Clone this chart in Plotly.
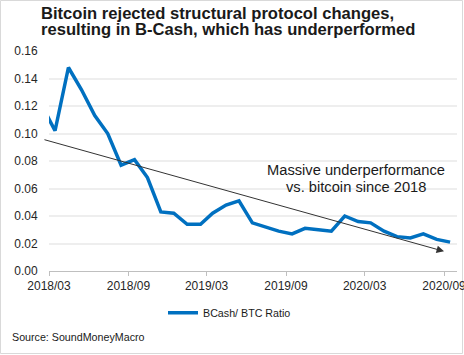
import plotly.graph_objects as go

# ---- data ----
months = ["2018-02-15", "2018-03-15", "2018-04-15", "2018-05-15", "2018-06-15", "2018-07-15",
          "2018-08-15", "2018-09-15", "2018-10-15", "2018-11-15", "2018-12-15",
          "2019-01-15", "2019-02-15", "2019-03-15", "2019-04-15", "2019-05-15", "2019-06-15",
          "2019-07-15", "2019-08-15", "2019-09-15", "2019-10-15", "2019-11-15", "2019-12-15",
          "2020-01-15", "2020-02-15", "2020-03-15", "2020-04-15", "2020-05-15", "2020-06-15",
          "2020-07-15", "2020-08-15", "2020-09-15"]
ratio = [0.119, 0.102, 0.148, 0.132, 0.113, 0.100,
         0.077, 0.081, 0.068, 0.043, 0.042,
         0.034, 0.034, 0.042, 0.048, 0.051, 0.035,
         0.032, 0.029, 0.027, 0.031, 0.030, 0.029,
         0.040, 0.036, 0.035, 0.029, 0.025, 0.024,
         0.027, 0.023, 0.021]
series_name = "BCash/ BTC Ratio"
trend_start = ("2018-02-15", 0.0958)
trend_end = ("2020-09-01", 0.0143)
x_range = ["2018-03-01", "2020-10-01"]
y_range = [0, 0.16]

title_lines = ["Bitcoin rejected structural protocol changes,",
               "resulting in B-Cash, which has underperformed"]
note_lines = ["Massive underperformance", "vs. bitcoin since 2018"]
source_text = "Source: SoundMoneyMacro"

# ---- layout geometry ----
W, H = 464, 355
L, R, T, B = 49, 7, 51, 84
PW, PH = W - L - R, H - T - B


def px_x(x):
    return (x - L) / PW


def px_y(y):
    return (H - B - y) / PH


FONT = "Liberation Sans, Arial, sans-serif"
TXT = "#262626"

fig = go.Figure()
fig.add_trace(go.Scatter(
    x=months, y=ratio, mode="lines", name=series_name,
    line=dict(color="#0070C0", width=3.5),
))

annotations = []
# title
for i, line in enumerate(title_lines):
    annotations.append(dict(
        text="<b>" + line + "</b>", xref="paper", yref="paper",
        x=px_x(39), y=px_y(13.2 + 16 * i), xanchor="left", yanchor="middle",
        showarrow=False, font=dict(family=FONT, size=16.6, color="#1a1a1a"),
    ))
# note
for i, line in enumerate(note_lines):
    annotations.append(dict(
        text=line, xref="paper", yref="paper",
        x=px_x(356), y=px_y(169.8 + 16.7 * i), xanchor="center", yanchor="middle",
        showarrow=False, font=dict(family=FONT, size=14.7, color="#1a1a1a"),
    ))
# trend arrow
annotations.append(dict(
    x=trend_end[0], y=trend_end[1], ax=trend_start[0], ay=trend_start[1],
    xref="x", yref="y", axref="x", ayref="y", text="", showarrow=True,
    arrowhead=2, arrowsize=1.5, arrowwidth=1, arrowcolor="#333333", standoff=0,
))
# source
annotations.append(dict(
    text=source_text, xref="paper", yref="paper",
    x=px_x(10), y=px_y(336.7), xanchor="left", yanchor="middle",
    showarrow=False, font=dict(family=FONT, size=10.7, color="#1a1a1a"),
))

fig.update_layout(
    width=W, height=H,
    margin=dict(l=L, r=R, t=T, b=B, autoexpand=False),
    paper_bgcolor="white", plot_bgcolor="white",
    font=dict(family=FONT, size=12, color=TXT),
    showlegend=True,
    legend=dict(orientation="h", x=px_x(163), y=px_y(312.7), xanchor="left", yanchor="middle",
                font=dict(family=FONT, size=10.7, color="#1a1a1a"),
                bgcolor="rgba(0,0,0,0)"),
    annotations=annotations,
    shapes=[dict(type="rect", xref="paper", yref="paper",
                 x0=px_x(0.5), x1=px_x(462.5), y0=px_y(353.5), y1=px_y(0.5),
                 line=dict(color="#d9d9d9", width=1), layer="below")],
)

fig.update_xaxes(
    type="date", range=x_range, tick0="2018-03-01", dtick="M6", tickformat="%Y/%m",
    showgrid=False, showline=True, linecolor="#bfbfbf", linewidth=1,
    ticks="outside", ticklen=4, tickcolor="#bfbfbf", tickwidth=1,
    tickfont=dict(family=FONT, size=12, color=TXT), ticklabeloverflow="allow",
    zeroline=False, fixedrange=True,
)
fig.update_yaxes(
    range=y_range, dtick=0.02, tickformat=".2f",
    showgrid=True, gridcolor="#eeeeee", gridwidth=1.5,
    showline=False, zeroline=False,
    ticks="outside", ticklen=8, tickcolor="rgba(0,0,0,0)",
    tickfont=dict(family=FONT, size=12, color=TXT), fixedrange=True,
)

fig.write_html("out.html", config={"displayModeBar": False},
               post_script="document.body.style.margin='0px';document.body.style.overflow='hidden';")
